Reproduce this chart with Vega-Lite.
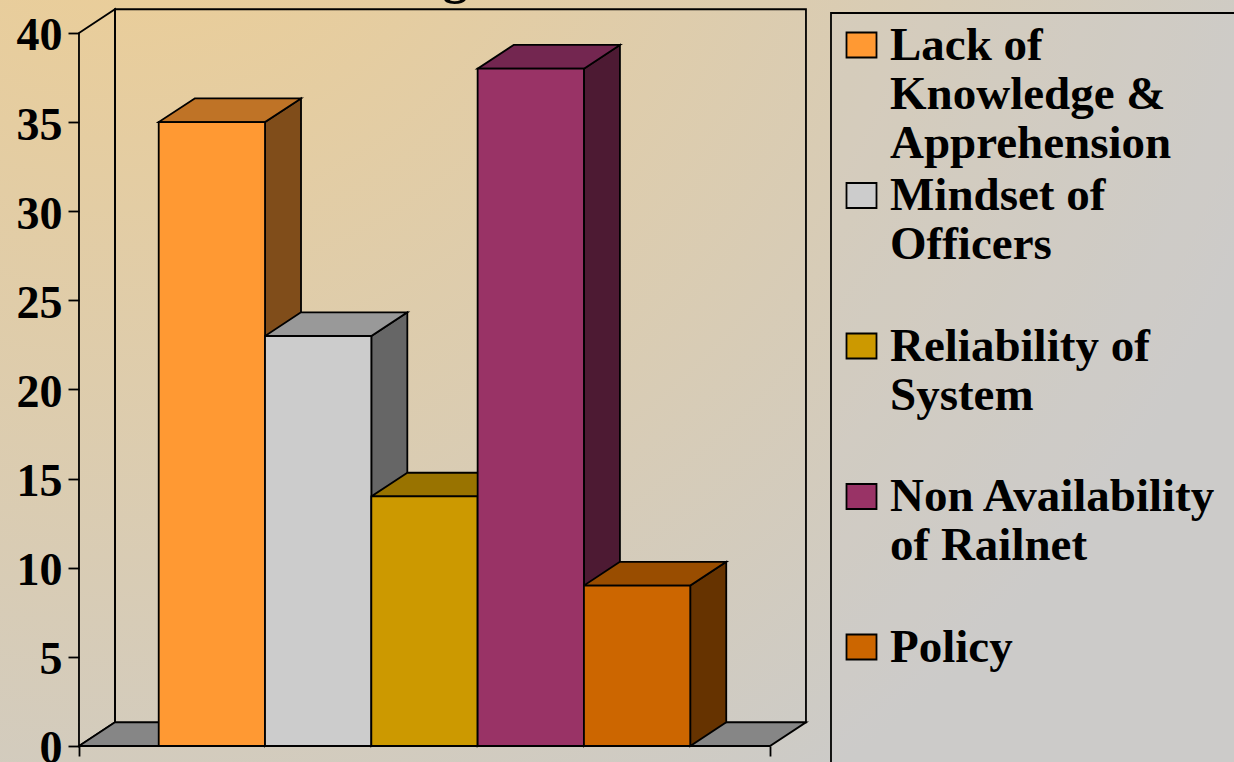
{
"$schema":"https://vega.github.io/schema/vega-lite/v6.json",
"width":1234,"height":762,"padding":0,
"autosize":{"type":"none"},
"config":{"view":{"stroke":null,"fill":{"gradient":"radial","x1":0.1,"y1":0,"r1":0,"x2":0.1,"y2":0,"r2":1,"stops":[{"offset":0,"color":"#F0CE90"},{"offset":1,"color":"#CCCBC8"}]}}},
"datasets":{
"bars":[
{"category":"Lack of Knowledge & Apprehension","value":35},
{"category":"Mindset of Officers","value":23},
{"category":"Reliability of System","value":14},
{"category":"Non Availability of Railnet","value":38},
{"category":"Policy","value":9}],
"wall":[{"x":0,"lo":0,"hi":40},{"x":0.3386,"lo":1.33,"hi":41.33}],
"floor":[{"y":0,"xa":0,"xb":6.5},{"y":1.33,"xa":0.3386,"xb":6.8386}],
"back":[{"xa":0.3386,"xb":6.8386,"lo":1.33,"hi":41.33}],
"panel":[{"xa":7.074,"xb":11.5,"lo":-3,"hi":41.12}],
"clipped":[{"t":"g","x":3.54,"y":42.24}]
},
"layer":[
{"data":{"name":"panel"},"mark":{"type":"rect","fill":"rgba(204,204,204,0.3)","stroke":"black","strokeWidth":1.8,"clip":true},
 "encoding":{"x":{"field":"xa","type":"quantitative","scale":{"domain":[-0.743,10.865],"nice":false,"zero":false},
   "axis":{"orient":"bottom","values":[0,6.5],"offset":-16,"title":null,"labels":false,"domain":false,"grid":false,"tickSize":10,"tickColor":"black","tickWidth":1.8}},
  "x2":{"field":"xb"},
  "y":{"field":"hi","type":"quantitative","scale":{"domain":[-0.898,41.85],"nice":false,"zero":false},
   "axis":{"orient":"left","values":[0,5,10,15,20,25,30,35,40],"offset":-79,"title":null,"domain":false,"grid":false,"tickSize":11,"tickColor":"black","tickWidth":1.8,"labelFont":"Liberation Serif","labelFontWeight":"bold","labelFontSize":46,"labelColor":"black","labelPadding":6,"labelOffset":3}},
  "y2":{"field":"lo"}}},
{"data":{"name":"wall"},"mark":{"type":"area","fill":"transparent","stroke":"black","strokeWidth":1.8},
 "encoding":{"x":{"field":"x","type":"quantitative"},"y":{"field":"hi","type":"quantitative"},"y2":{"field":"lo"}}},
{"data":{"name":"back"},"mark":{"type":"rect","fill":"transparent","stroke":"black","strokeWidth":1.8},
 "encoding":{"x":{"field":"xa","type":"quantitative"},"x2":{"field":"xb"},"y":{"field":"hi","type":"quantitative"},"y2":{"field":"lo"}}},
{"data":{"name":"floor"},"mark":{"type":"area","orient":"horizontal","fill":"#868686","stroke":"black","strokeWidth":1.8},
 "encoding":{"y":{"field":"y","type":"quantitative"},"x":{"field":"xa","type":"quantitative"},"x2":{"field":"xb"}}},
{"data":{"name":"bars"},
 "transform":[{"window":[{"op":"row_number","as":"i"}]},{"calculate":"0","as":"near"},{"calculate":"1","as":"far"},{"fold":["near","far"],"as":["k","f"]},
  {"calculate":"datum.i+0.75+datum.f*0.3386","as":"sx"},{"calculate":"datum.f*1.33","as":"lo"},{"calculate":"datum.value+datum.f*1.33","as":"hi"}],
 "mark":{"type":"area","stroke":"black","strokeWidth":1.8},
 "encoding":{"x":{"field":"sx","type":"quantitative"},"y":{"field":"hi","type":"quantitative"},"y2":{"field":"lo"},
  "color":{"field":"category","type":"nominal","legend":null,"scale":{"domain":["Lack of Knowledge & Apprehension","Mindset of Officers","Reliability of System","Non Availability of Railnet","Policy"],"range":["#804D1A","#666666","#664D00","#4D1A33","#663300"]}}}},
{"data":{"name":"bars"},
 "transform":[{"window":[{"op":"row_number","as":"i"}]},{"calculate":"0","as":"near"},{"calculate":"1","as":"far"},{"fold":["near","far"],"as":["k","f"]},
  {"calculate":"datum.value+datum.f*1.33","as":"ty"},{"calculate":"datum.i-0.25+datum.f*0.3386","as":"xa"},{"calculate":"datum.i+0.75+datum.f*0.3386","as":"xb"}],
 "mark":{"type":"area","orient":"horizontal","stroke":"black","strokeWidth":1.8},
 "encoding":{"y":{"field":"ty","type":"quantitative"},"x":{"field":"xa","type":"quantitative"},"x2":{"field":"xb"},
  "color":{"field":"category","type":"nominal","legend":null,"scale":{"domain":["Lack of Knowledge & Apprehension","Mindset of Officers","Reliability of System","Non Availability of Railnet","Policy"],"range":["#BF7326","#999999","#997300","#732650","#994D00"]}}}},
{"data":{"name":"bars"},
 "transform":[{"window":[{"op":"row_number","as":"i"}]},{"calculate":"datum.i+0.75","as":"xb"},{"calculate":"datum.i-0.25","as":"xa"}],
 "mark":{"type":"rect","stroke":"black","strokeWidth":1.8},
 "encoding":{"x":{"field":"xa","type":"quantitative"},"x2":{"field":"xb"},"y":{"field":"value","type":"quantitative"},"y2":{"datum":0},
  "color":{"field":"category","type":"nominal","scale":{"domain":["Lack of Knowledge & Apprehension","Mindset of Officers","Reliability of System","Non Availability of Railnet","Policy"],"range":["#FF9933","#CCCCCC","#CC9900","#993366","#CC6600"]},
   "legend":{"orient":"none","legendX":828,"legendY":26,"title":null,"padding":10,"strokeColor":null,
    "symbolType":"M-1,-1.8H1V-0.133H-1Z","symbolSize":900,"symbolStrokeColor":"black","symbolStrokeWidth":1.8,"symbolOpacity":1,
    "labelFont":"Liberation Serif","labelFontWeight":"bold","labelFontSize":47,"labelColor":"black","labelLimit":500,"labelOffset":5,"rowPadding":4.5,"gridAlign":"all","columns":1,
    "labelExpr":"{'Lack of Knowledge & Apprehension':['Lack of','Knowledge &','Apprehension'],'Mindset of Officers':['Mindset of','Officers'],'Reliability of System':['Reliability of','System'],'Non Availability of Railnet':['Non Availability','of Railnet'],'Policy':'Policy'}[datum.label]",
    "labelBaseline":"alphabetic",
    "encoding":{"labels":{"update":{"lineHeight":{"value":47.5}}}}}}}},
{"data":{"name":"clipped"},"mark":{"type":"text","font":"Liberation Serif","fontWeight":"bold","fontSize":50,"color":"black","clip":true,"baseline":"alphabetic"},
 "encoding":{"x":{"field":"x","type":"quantitative"},"y":{"field":"y","type":"quantitative"},"text":{"field":"t"}}}
],
"resolve":{"scale":{"color":"independent"}}
}
